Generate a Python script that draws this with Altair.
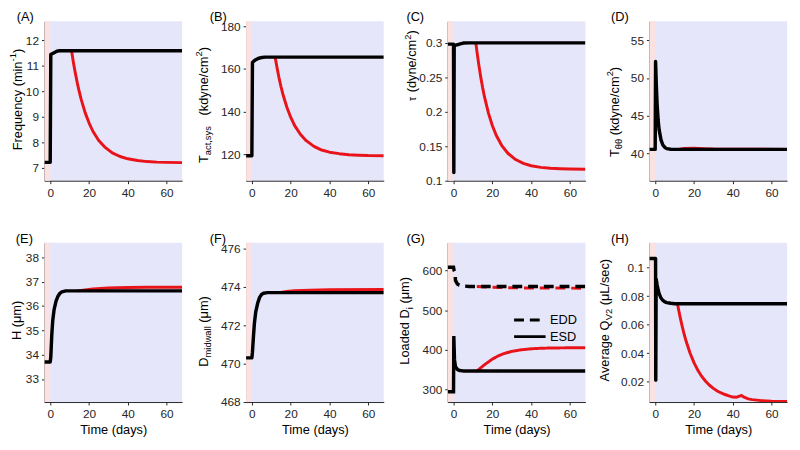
import altair as alt
import pandas as pd

FONT = "Liberation Sans"
BLACK = "#000000"
RED = "#e8141a"
LAVENDER = "#e6e6fa"
PINK = "#fbe2e2"
AXIS = "#262626"

W_PANEL = 140
H_PANEL = 162

X_DOMAIN = [-3, 68]
X_TICKS = [0, 20, 40, 60]
BASELINE_START = [-3]
BASELINE_END = [0]

# ---------------- data ----------------
A_black_t = [-3, 0, 0.3, 1, 2, 3, 4, 5, 68]
A_black_v = [7.22, 7.22, 11.45, 11.48, 11.52, 11.56, 11.59, 11.6, 11.6]
A_red_t = [11, 12, 13, 14, 15, 16, 18, 20, 22, 25, 28, 32, 36, 40, 45, 50, 55, 60, 68]
A_red_v = [11.6, 11.12, 10.70, 10.32, 9.98, 9.68, 9.17, 8.77, 8.44, 8.08, 7.83, 7.59, 7.45, 7.36, 7.29, 7.25, 7.23, 7.22, 7.21]

B_black_t = [-3, 0, 0.3, 1, 2, 3, 4, 5, 7, 68]
B_black_v = [119.2, 119.2, 163.0, 163.6, 164.3, 164.8, 165.1, 165.3, 165.5, 165.5]
B_red_t = [12, 13, 14, 15, 16, 18, 20, 22, 25, 28, 32, 36, 40, 45, 50, 55, 60, 68]
B_red_v = [165.5, 160.4, 155.8, 151.7, 148.1, 142.1, 137.3, 133.5, 129.3, 126.3, 123.6, 121.9, 120.9, 120.2, 119.7, 119.5, 119.3, 119.2]

C_black_t = [-3, 0, 0.15, 0.35, 1, 2, 3, 5, 8, 68]
C_black_v = [0.298, 0.298, 0.112, 0.297, 0.2965, 0.297, 0.298, 0.2995, 0.2998, 0.2998]
C_red_t = [11.5, 12, 13, 14, 15, 16, 18, 20, 22, 25, 28, 32, 36, 40, 45, 50, 55, 60, 68]
C_red_v = [0.2998, 0.2888, 0.2686, 0.2508, 0.235, 0.2211, 0.198, 0.18, 0.1659, 0.1504, 0.1398, 0.1307,
           0.1251, 0.1217, 0.1193, 0.118, 0.1173, 0.1169, 0.1166]

D_black_t = [-3, 0, 0.2, 0.6, 1, 1.5, 2, 3, 4, 5, 6, 8, 10, 68]
D_black_v = [40.55, 40.55, 52.2, 49.0, 46.5, 44.5, 43.2, 41.8, 41.1, 40.8, 40.65, 40.57, 40.55, 40.55]
D_red_t = [12, 15, 20, 25, 30, 40, 68]
D_red_v = [40.55, 40.68, 40.7, 40.65, 40.6, 40.57, 40.55]

E_black_t = [-3, 0, 0.3, 0.8, 1.3, 2, 3, 4, 5, 6, 8, 68]
E_black_v = [33.7, 33.7, 33.9, 34.8, 35.4, 35.85, 36.2, 36.4, 36.52, 36.58, 36.62, 36.62]
E_red_t = [14, 18, 22, 26, 30, 40, 50, 68]
E_red_v = [36.62, 36.66, 36.7, 36.72, 36.74, 36.76, 36.77, 36.77]

F_black_t = [-3, 0, 0.3, 0.8, 1.3, 2, 3, 4, 5, 6, 8, 68]
F_black_v = [470.3, 470.3, 470.6, 471.4, 472.1, 472.7, 473.15, 473.45, 473.6, 473.67, 473.7, 473.7]
F_red_t = [14, 18, 22, 30, 40, 68]
F_red_v = [473.7, 473.76, 473.8, 473.83, 473.85, 473.86]

G_edd_black_t = [-3, 0, 0.3, 0.8, 1.0, 2, 3, 5, 8, 68]
G_edd_black_v = [608, 608, 600, 595, 575, 566, 563, 561, 560, 560]
G_edd_red_t = [12, 20, 30, 40, 68]
G_edd_red_v = [560, 558, 556.5, 556, 555.5]
G_esd_black_t = [-3, 0, 0.15, 0.5, 1, 2, 3, 5, 8, 68]
G_esd_black_v = [295, 295, 435, 375, 358, 351, 348.5, 347.3, 347, 347]
G_esd_red_t = [12, 14, 16, 18, 20, 23, 26, 30, 35, 40, 45, 50, 60, 68]
G_esd_red_v = [347, 355, 363, 370, 377, 385, 391, 396.5, 400.5, 403, 404.3, 405, 405.5, 405.6]
G_series = ["EDD", "ESD"]

H_black_t = [-3, 0.2, 0.3, 0.5, 1, 1.5, 2, 3, 4, 5, 6, 8, 10, 68]
H_black_v = [0.1065, 0.1065, 0.021, 0.092, 0.088, 0.0845, 0.082, 0.0787, 0.077, 0.076, 0.0755, 0.075, 0.0747, 0.0747]
H_red_t = [11.5, 12, 13, 14, 15, 16, 18, 20, 22, 24, 26, 28, 30, 32, 34, 36, 38, 40, 42, 43.5, 44.5, 45.5, 48, 50, 55, 60, 68]
H_red_v = [0.0747, 0.071, 0.0644, 0.0584, 0.0529, 0.0481, 0.0399, 0.0333, 0.0279, 0.0236, 0.0202, 0.0174, 0.0152,
           0.0134, 0.012, 0.0109, 0.0099, 0.0091, 0.009, 0.0098, 0.0102, 0.0092, 0.0078, 0.0073, 0.0066, 0.0062, 0.006]

# ---------------- text helpers ----------------
ARIAL_W = {" ": 278, "(": 333, ")": 333, "/": 278, ",": 278, "-": 333, ".": 278,
           "A": 667, "D": 722, "F": 611, "H": 722, "L": 556, "Q": 778, "T": 611, "V": 667,
           "a": 556, "c": 500, "d": 556, "e": 556, "g": 556, "i": 222, "k": 500, "l": 222,
           "m": 833, "n": 556, "o": 556, "q": 556, "r": 333, "s": 500, "t": 278, "u": 556,
           "v": 500, "w": 722, "y": 500, "μ": 576, "θ": 556, "τ": 500}


def text_width(s, size):
    return sum(ARIAL_W.get(c, 556) for c in s) * size / 1000.0


SIZES = {"n": 13, "sub": 9.5, "sup": 9.5, "small": 10.5}
SHIFT = {"n": 0, "sub": 3.5, "sup": -5.5, "small": 0}


def rich_title(pieces, x0, y0):
    layers = []
    off = 0.0
    for txt, kind in pieces:
        size = SIZES[kind]
        lead = len(txt) - len(txt.lstrip(" "))
        off += text_width(" " * lead, size)
        txt = txt.lstrip(" ")
        layers.append(
            alt.Chart(pd.DataFrame({"t": [txt]})).mark_text(
                angle=270, align="left", baseline="alphabetic", dx=off, dy=SHIFT[kind],
                fontSize=size, font=FONT, color=BLACK,
            ).encode(x=alt.value(x0), y=alt.value(y0), text="t:N")
        )
        off += text_width(txt, size)
    return layers


def panel_label(txt, x0, y0):
    return alt.Chart(pd.DataFrame({"t": [txt]})).mark_text(
        align="left", baseline="top", fontSize=13, font=FONT, color=BLACK
    ).encode(x=alt.value(x0), y=alt.value(y0), text="t:N")


def base_layers(domain, ticks, fmt, bottom):
    xax = alt.Axis(values=X_TICKS, title="Time (days)" if bottom else None, titlePadding=4)
    xs = alt.X("t:Q", scale=alt.Scale(domain=X_DOMAIN, nice=False, zero=False), axis=xax)
    ys = alt.Y("v:Q", scale=alt.Scale(domain=domain, nice=False, zero=False),
               axis=alt.Axis(values=ticks, format=fmt, title=None))
    pink = alt.Chart(pd.DataFrame({"s": BASELINE_START, "e": BASELINE_END})).mark_rect(
        color=PINK).encode(
        x=alt.X("s:Q", scale=alt.Scale(domain=X_DOMAIN, nice=False, zero=False), axis=xax),
        x2="e:Q", y=alt.value(0), y2=alt.value(H_PANEL))
    return xs, ys, pink


def line_df(ts, vs):
    return pd.DataFrame({"t": ts, "v": vs, "i": list(range(len(ts)))})


LABEL_Y = -10


def panel(black_t, black_v, red_t, red_v, domain, ticks, fmt, pieces, tx, ty, label, lx, bottom):
    xs, ys, pink = base_layers(domain, ticks, fmt, bottom)
    red = alt.Chart(line_df(red_t, red_v)).mark_line(
        color=RED, strokeWidth=3, clip=True, strokeJoin="round").encode(
        x=xs, y=ys, order="i:Q")
    black = alt.Chart(line_df(black_t, black_v)).mark_line(
        color=BLACK, strokeWidth=3.5, clip=True, strokeJoin="round").encode(
        x=xs, y=ys, order="i:Q")
    layers = [pink, red, black] + rich_title(pieces, tx, ty) + [panel_label(label, lx, LABEL_Y)]
    return alt.layer(*layers).properties(width=W_PANEL, height=H_PANEL)


pA = panel(A_black_t, A_black_v, A_red_t, A_red_v, [6.5, 12.75], [7, 8, 9, 10, 11, 12], "d",
           [("Frequency (min", "n"), ("-1", "sup"), (")", "n")], -23, 131, "(A)", -28, False)
pB = panel(B_black_t, B_black_v, B_red_t, B_red_v, [107.5, 182.3], [120, 140, 160, 180], "d",
           [("T", "n"), ("act,sys", "sub"), ("   (kdyne/cm", "n"), ("2", "sup"), (")", "n")],
           -39, 144, "(B)", -37, False)
pC = panel(C_black_t, C_black_v, C_red_t, C_red_v, [0.1, 0.331], [0.1, 0.15, 0.2, 0.25, 0.3], "~g",
           [("τ", "small"), (" (dyne/cm", "n"), ("2", "sup"), (")", "n")], -32, 81, "(C)", -42, False)
pD = panel(D_black_t, D_black_v, D_red_t, D_red_v, [36.4, 57.5], [40, 45, 50, 55], "d",
           [("T", "n"), ("θθ", "sub"), (" (kdyne/cm", "n"), ("2", "sup"), (")", "n")],
           -31, 138, "(D)", -39, False)
pE = panel(E_black_t, E_black_v, E_red_t, E_red_v, [32.05, 38.6], [33, 34, 35, 36, 37, 38], "d",
           [("H (μm)", "n")], -24, 99, "(E)", -29, True)
pF = panel(F_black_t, F_black_v, F_red_t, F_red_v, [468, 476.3], [468, 470, 472, 474, 476], "d",
           [("D", "n"), ("midwall", "sub"), (" (μm)", "n")], -39, 126, "(F)", -37, True)
pH = panel(H_black_t, H_black_v, H_red_t, H_red_v, [0.0056, 0.1176], [0.02, 0.04, 0.06, 0.08, 0.1], "~g",
           [("Average Q", "n"), ("V2", "sub"), (" (μL/sec)", "n")], -41, 141, "(H)", -39, True)

# ---- panel G with EDD / ESD ----
g_black = pd.concat([
    line_df(G_edd_black_t, G_edd_black_v).assign(series="EDD"),
    line_df(G_esd_black_t, G_esd_black_v).assign(series="ESD"),
])
g_red = pd.concat([
    line_df(G_edd_red_t, G_edd_red_v).assign(series="EDD"),
    line_df(G_esd_red_t, G_esd_red_v).assign(series="ESD"),
])
xsG, ysG, pinkG = base_layers([269, 670], [300, 400, 500, 600], "d", True)
dash_scale = alt.Scale(domain=G_series, range=[[10, 6], [1, 0]])
legendG = alt.Legend(orient="none", legendX=74, legendY=69, title=None, symbolType="M-2,0L2,0",
                     symbolSize=256, symbolStrokeWidth=3, symbolStrokeColor=BLACK,
                     labelFont=FONT, labelFontSize=13, labelColor=BLACK, padding=0, rowPadding=0,
                     labelOffset=11)
g_red_layer = alt.Chart(g_red).mark_line(color=RED, strokeWidth=3, clip=True).encode(
    x=xsG, y=ysG, order="i:Q", strokeDash=alt.StrokeDash("series:N", scale=dash_scale, legend=legendG))
g_black_layer = alt.Chart(g_black).mark_line(color=BLACK, strokeWidth=3.5, clip=True).encode(
    x=xsG, y=ysG, order="i:Q", strokeDash=alt.StrokeDash("series:N", scale=dash_scale, legend=legendG))
pG = alt.layer(pinkG, g_red_layer, g_black_layer,
               *rich_title([("Loaded D", "n"), ("i", "sub"), (" (μm)", "n")], -39, 124),
               panel_label("(G)", -42, LABEL_Y)).properties(width=W_PANEL, height=H_PANEL)

chart = alt.concat(pA, pB, pC, pD, pE, pF, pG, pH, columns=4,
                   spacing={"row": 63, "column": 65}, bounds="flush").resolve_scale(
    x="independent", y="independent", strokeDash="independent").resolve_legend(
    strokeDash="independent").properties(
    padding={"left": 0, "top": 0, "right": 5, "bottom": 0}).configure_view(
    fill=LAVENDER, stroke=None).configure_axis(
    labelFont=FONT, labelFontSize=12, labelColor=AXIS, domainColor=AXIS, tickColor=AXIS,
    tickSize=3, domainWidth=1, grid=False, titleFont=FONT, titleFontSize=13, titleColor=BLACK,
    titleFontWeight="normal", labelPadding=3, labelFlush=False).configure_axisX(labelPadding=4)

chart.save("out.html", embed_options={"renderer": "svg", "actions": False})
